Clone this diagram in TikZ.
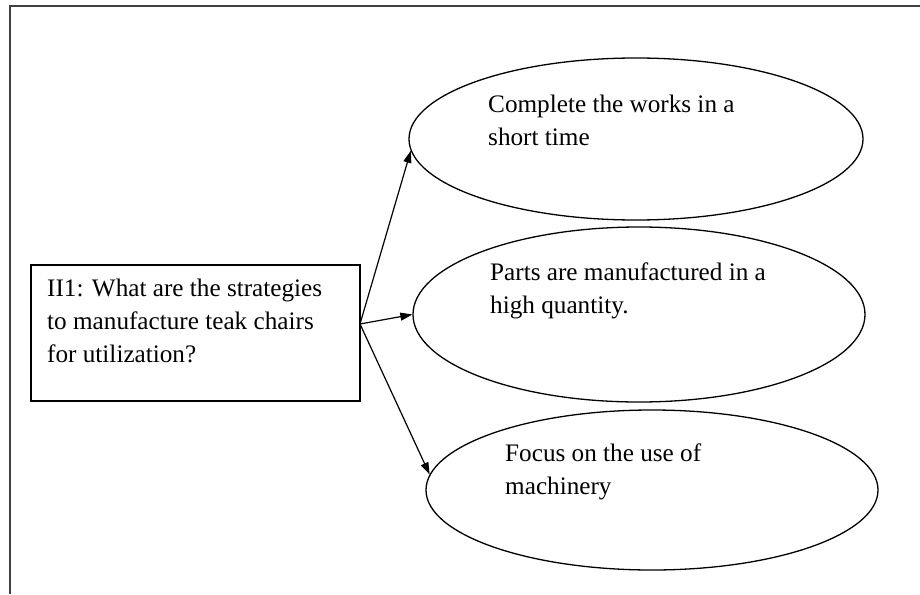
\documentclass[tikz,border=0pt]{standalone}
\usepackage{fontspec}
\setmainfont{Liberation Serif}
\usetikzlibrary{arrows.meta,positioning,shapes.geometric}

\begin{document}
\begin{tikzpicture}[x=1pt, y=-1pt, >={Triangle[length=12pt,width=8pt]},
  every node/.style={font=\fontsize{25.2}{33}\selectfont},
  oval/.style={draw, ellipse, line width=1.3pt, inner sep=0pt},
  txt/.style={anchor=base west, align=left, inner sep=0pt}]
  \useasboundingbox (0,0) rectangle (920,594);
  \draw[line width=2.2pt, black!75] (920,6) -- (10,6) -- (10,594);
  % question box (text placed by its last baseline)
  \node[draw, line width=1.3pt, minimum width=329pt, minimum height=136pt, inner sep=0pt] (q) at (195.5,333) {};
  \node[txt] (qtext) at (47,362) {II1: What are the strategies\\to manufacture teak chairs\\for utilization?};
  \coordinate (fork) at (360,324);
  % strategies
  \node[oval, minimum width=454pt, minimum height=162pt] (e1) at (636,139) {};
  \node[oval, minimum width=452pt, minimum height=175pt] (e2) at (639,314.5) {};
  \node[oval, minimum width=452pt, minimum height=160pt] (e3) at (652,490) {};
  \node[txt] (t1) at (488,145) {Complete the works in a\\short time};
  \node[txt] (t2) at (490,313) {Parts are manufactured in a\\high quantity.};
  \node[txt] (t3) at (505,494) {Focus on the use of\\machinery};
  \draw[->, line width=1.2pt] (fork) -- (e1.183);
  \draw[->, line width=1.2pt] (fork) -- (e2.west);
  \draw[->, line width=1.2pt] (fork) -- (e3.176);
\end{tikzpicture}
\end{document}
